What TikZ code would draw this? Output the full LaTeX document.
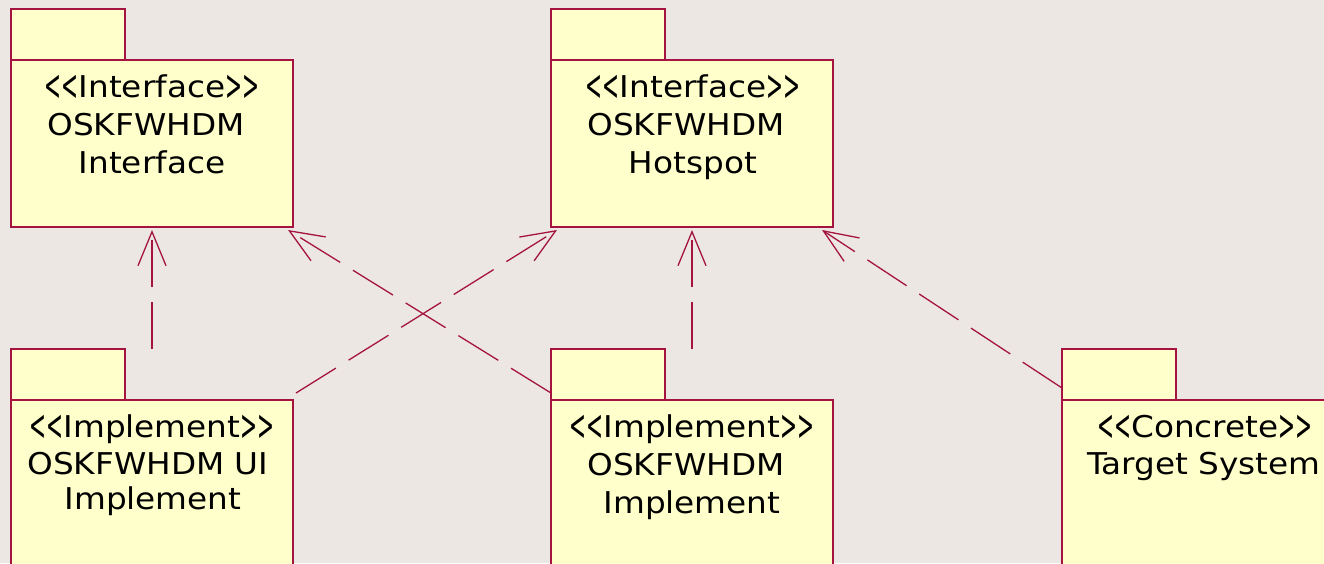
\documentclass[tikz,border=0pt]{standalone}
\usepackage{fontspec}
\setmainfont{DejaVu Sans}[Ligatures=TeXOff,FakeStretch=1.09]
\usetikzlibrary{arrows.meta,calc}
\definecolor{bg}{RGB}{236,231,227}
\definecolor{pkgfill}{RGB}{255,255,204}
\definecolor{edge}{RGB}{165,20,65}
\newcommand\lgu{\raisebox{-0.1em}{\scalebox{0.62}[1.45]{<}}}
\newcommand\rgu{\raisebox{-0.1em}{\scalebox{0.62}[1.45]{>}}}
\begin{document}
\begin{tikzpicture}[x=1pt,y=-1pt,
  pkgtab/.style={draw=edge,fill=pkgfill,line width=1.2pt,anchor=north west,minimum width=114pt,minimum height=51pt,inner sep=0pt,outer sep=0pt},
  pkgbody/.style={draw=edge,fill=pkgfill,line width=1.2pt,anchor=north west,minimum width=282pt,minimum height=#1,inner sep=0pt,outer sep=0pt},
  pkgbody/.default=167pt,
  lbl/.style={anchor=base,inner sep=0pt,font=\fontsize{30}{36}\selectfont},
  dep/.style={draw=edge,line width=1.3pt,dash pattern=on 47pt off 15pt,-{Straight Barb[length=34pt,width=28pt,line width=1.3pt]}}]
\useasboundingbox (0,0) rectangle (1324,563);
\fill[bg] (0,0) rectangle (1324,563);
\clip (0,0) rectangle (1324,563);
% top packages
\node[pkgtab] (p1tab) at (11,9) {};
\node[pkgbody] (b1) at (11,60) {};
\node[pkgtab] (p2tab) at (551,9) {};
\node[pkgbody] (b2) at (551,60) {};
% bottom packages
\node[pkgtab] (p3tab) at (11,349) {};
\node[pkgbody=230pt] (b3) at (11,400) {};
\node[pkgtab] (p4tab) at (551,349) {};
\node[pkgbody=230pt] (b4) at (551,400) {};
\node[pkgtab] (p5tab) at (1062,349) {};
\node[pkgbody=230pt] (b5) at (1062,400) {};
% labels
\node[lbl] (t1a) at (152,97) {\lgu\lgu Interface\rgu\rgu};
\node[lbl] (t1b) at (146,135) {OSKFWHDM};
\node[lbl] (t1c) at (152,173) {Interface};
\node[lbl] (t2a) at (693,97) {\lgu\lgu Interface\rgu\rgu};
\node[lbl] (t2b) at (686,135) {OSKFWHDM};
\node[lbl] (t2c) at (693,173) {Hotspot};
\node[lbl] (t3a) at (152,437) {\lgu\lgu Implement\rgu\rgu};
\node[lbl] (t3b) at (148,474) {OSKFWHDM UI};
\node[lbl] (t3c) at (153,509) {Implement};
\node[lbl] (t4a) at (692,437) {\lgu\lgu Implement\rgu\rgu};
\node[lbl] (t4b) at (686,475) {OSKFWHDM};
\node[lbl] (t4c) at (692,513) {Implement};
\node[lbl] (t5a) at (1205,437) {\lgu\lgu Concrete\rgu\rgu};
\node[lbl] (t5b) at (1204,474) {Target System};
% connector end points
\coordinate (s1) at ($(b3.north)+(0,-51)$);
\coordinate (e1) at ($(b1.south)+(0,3)$);
\coordinate (s2) at ($(b4.north west)+(0,-7)$);
\coordinate (e2) at ($(b1.south east)+(-5,3)$);
\coordinate (s3) at ($(b3.north east)+(3,-7)$);
\coordinate (e3) at ($(b2.south west)+(6,3)$);
\coordinate (s4) at ($(b4.north)+(0,-51)$);
\coordinate (e4) at ($(b2.south)+(0,3)$);
\coordinate (s5) at ($(b5.north west)+(0,-12)$);
\coordinate (e5) at ($(b2.south east)+(-11,3)$);
% connectors
\draw[dep] (s1) -- (e1);
\draw[dep] (s2) -- (e2);
\draw[dep] (s3) -- (e3);
\draw[dep] (s4) -- (e4);
\draw[dep] (s5) -- (e5);
\end{tikzpicture}
\end{document}
